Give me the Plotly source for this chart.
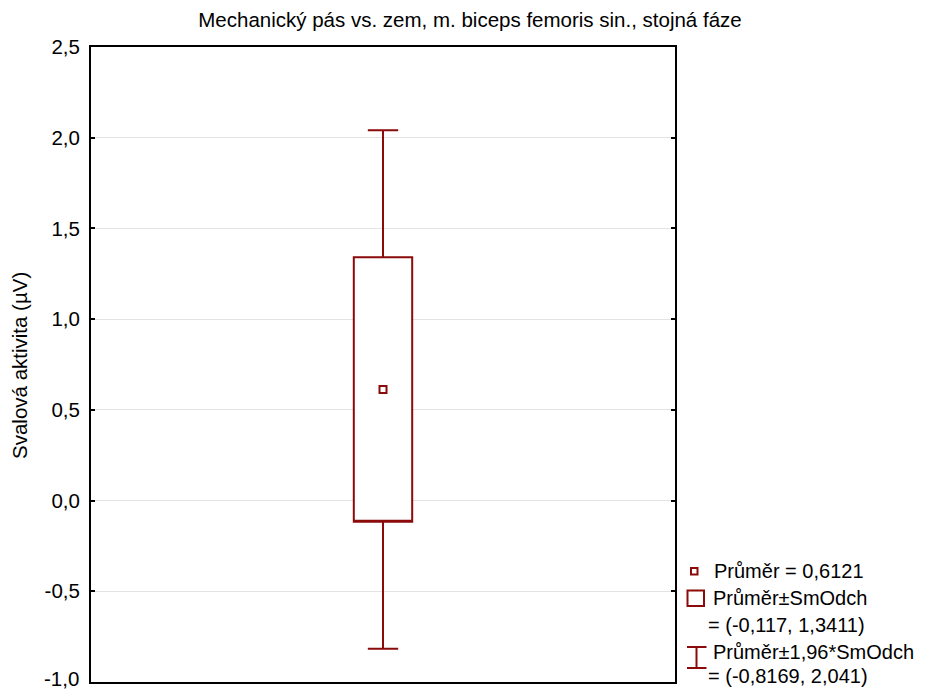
import plotly.graph_objects as go

# ---- data ----
categories = ["Mechanický pás vs. zem"]
mean_values = [0.6121]
sd_low = [-0.117]
sd_high = [1.3411]
ci_low = [-0.8169]
ci_high = [2.041]

y_tick_vals = [-1.0, -0.5, 0.0, 0.5, 1.0, 1.5, 2.0, 2.5]
y_tick_labels = ["-1,0", "-0,5", "0,0", "0,5", "1,0", "1,5", "2,0", "2,5"]

title_text = "Mechanický pás vs. zem, m. biceps femoris sin., stojná fáze"
y_title_text = "Svalová aktivita (µV)"
legend_mean = "Průměr = 0,6121"
legend_box = ["Průměr±SmOdch", "= (-0,117, 1,3411)"]
legend_whisk = ["Průměr±1,96*SmOdch", "= (-0,8169, 2,041)"]

# ---- layout geometry ----
W, H = 925, 690
L, R, T, B = 91, 675, 47, 682
PW, PH = R - L, B - T
DARK = "#8B0A0A"
FONT = "Liberation Sans, Arial, sans-serif"
TICK_SIZE = 20.5


def px(x):
    return (x - L) / PW


def py(y):
    return (B - y) / PH


fig = go.Figure()

fig.add_trace(go.Box(
    x=categories,
    q1=sd_low, q3=sd_high, median=sd_low,
    lowerfence=ci_low, upperfence=ci_high,
    width=0.1, whiskerwidth=0.52,
    line=dict(color=DARK, width=2),
    fillcolor="white",
    boxpoints=False,
    showlegend=False,
    hoverinfo="skip",
))

fig.add_trace(go.Scatter(
    x=categories, y=mean_values, mode="markers",
    marker=dict(symbol="square-open", size=7, color=DARK,
                line=dict(color=DARK, width=2)),
    showlegend=False, hoverinfo="skip",
))

shapes = []
annotations = []

# legend: mean marker
shapes.append(dict(type="rect", xref="paper", yref="paper",
                   x0=px(691), x1=px(697.5), y0=py(574.5), y1=py(568),
                   line=dict(color=DARK, width=2), fillcolor="white"))
# legend: box icon
shapes.append(dict(type="rect", xref="paper", yref="paper",
                   x0=px(687.5), x1=px(704), y0=py(606), y1=py(590.5),
                   line=dict(color=DARK, width=2), fillcolor="white"))
# legend: whisker icon
shapes.append(dict(type="line", xref="paper", yref="paper",
                   x0=px(696.5), x1=px(696.5), y0=py(668), y1=py(647),
                   line=dict(color=DARK, width=2)))
shapes.append(dict(type="line", xref="paper", yref="paper",
                   x0=px(687), x1=px(706.5), y0=py(647), y1=py(647),
                   line=dict(color=DARK, width=2)))
shapes.append(dict(type="line", xref="paper", yref="paper",
                   x0=px(687), x1=px(706.5), y0=py(668), y1=py(668),
                   line=dict(color=DARK, width=2)))

leg_items = [
    (legend_mean, 712, 571),
    (legend_box[0], 711, 598),
    (legend_box[1], 706, 625),
    (legend_whisk[0], 711, 652),
    (legend_whisk[1], 706, 676),
]
for txt, x, y in leg_items:
    annotations.append(dict(text=txt, xref="paper", yref="paper",
                            x=px(x), y=py(y), xanchor="left", yanchor="middle",
                            showarrow=False,
                            font=dict(family=FONT, size=20, color="black")))

# bottom tick label, lifted slightly so it stays inside the page
annotations.append(dict(text=y_tick_labels[0], xref="paper", yref="paper",
                        x=px(80.5), y=py(678), xanchor="right", yanchor="middle",
                        showarrow=False,
                        font=dict(family=FONT, size=TICK_SIZE, color="black")))
axis_tick_text = [""] + y_tick_labels[1:]

# y axis title
annotations.append(dict(text=y_title_text, xref="paper", yref="paper",
                        x=px(20), y=py(366), xanchor="center", yanchor="middle",
                        textangle=-90, showarrow=False,
                        font=dict(family=FONT, size=20.5, color="black")))

fig.update_layout(
    width=W, height=H,
    margin=dict(l=L, r=W - R, t=T, b=H - B, pad=0, autoexpand=False),
    paper_bgcolor="white", plot_bgcolor="white",
    title=dict(text=title_text, x=470 / W, xanchor="center",
               y=1 - 20 / H, yanchor="middle", yref="container",
               font=dict(family=FONT, size=20.5, color="black")),
    font=dict(family=FONT, color="black"),
    showlegend=False,
    shapes=shapes,
    annotations=annotations,
    xaxis=dict(type="category", range=[-0.5, 0.5], showticklabels=False,
               ticks="", showgrid=False, zeroline=False, automargin=False,
               showline=True, linecolor="black", linewidth=2, mirror=True),
    yaxis=dict(range=[-1.0, 2.5], tickvals=y_tick_vals, ticktext=axis_tick_text,
               ticks="inside", ticklen=4, tickwidth=2, tickcolor="black",
               showgrid=True, gridcolor="#e3e3e3", gridwidth=1,
               zeroline=False, showline=True, linecolor="black", linewidth=2,
               mirror="ticks", ticklabelstandoff=5, ticklabeloverflow="allow",
               automargin=False,
               tickfont=dict(family=FONT, size=TICK_SIZE, color="black")),
)

fig.write_html("out.html")
